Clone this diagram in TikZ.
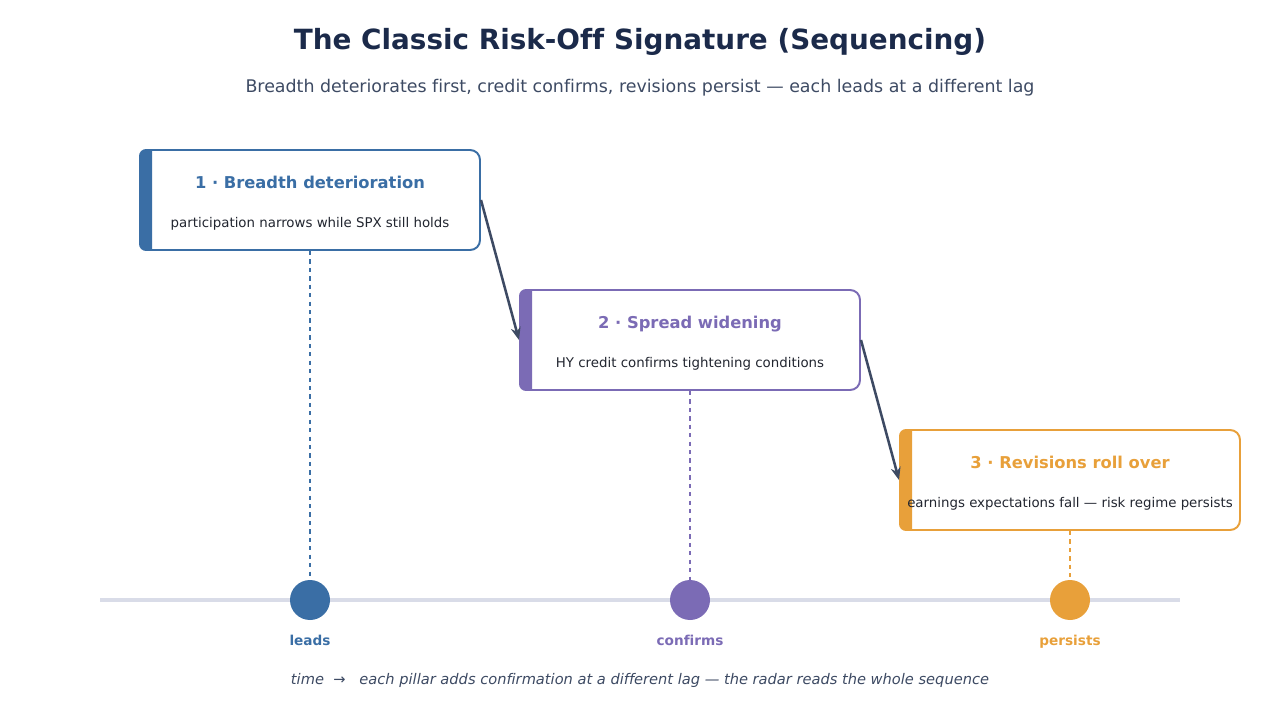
\documentclass[tikz,border=0pt]{standalone}
\usepackage{fontspec}
\setmainfont{DejaVu Sans}[Ligatures=NoCommon]
\usepackage{tikz}
\usetikzlibrary{positioning,arrows.meta}
\definecolor{TitleNavy}{HTML}{1B2A4A}
\definecolor{SlateText}{HTML}{3D4A63}
\definecolor{BodyText}{HTML}{222630}
\definecolor{LeadBlue}{HTML}{3A6EA5}
\definecolor{ConfPurple}{HTML}{7B6BB5}
\definecolor{PersOrange}{HTML}{E8A03A}
\definecolor{AxisGrey}{HTML}{D9DCE8}

\begin{document}
\begin{tikzpicture}[
        stagebox/.style={rectangle, draw=#1, fill=white, line width=1.4pt, rounded corners=7pt, minimum width=8.5cm, minimum height=2.5cm},
        stagetitle/.style={font=\fontsize{11.6}{13}\selectfont\bfseries, text=#1},
        stagedesc/.style={font=\fontsize{9.5}{11}\selectfont, text=BodyText},
        lagdot/.style={circle, fill=#1, minimum size=1cm, inner sep=0pt},
        laglabel/.style={font=\fontsize{9.7}{11}\selectfont\bfseries, text=#1},
        drop/.style={draw=#1, line width=1.1pt, dash pattern=on 3pt off 3pt},
        arrow/.style={draw=SlateText, line width=1.8pt, -{Stealth[length=9pt,width=7pt]}}
    ]
        \useasboundingbox (0,0) rectangle (32,18);

        % heading
        \node [font=\fontsize{19.8}{23}\selectfont\bfseries, text=TitleNavy] (title) at (16,16.95) {The Classic Risk-Off Signature (Sequencing)};
        \node [font=\fontsize{12.4}{14}\selectfont, text=SlateText] (subtitle) at (16,15.82) {Breadth deteriorates first, credit confirms, revisions persist — each leads at a different lag};

        % time axis
        \coordinate (axis_l) at (2.5,3);
        \coordinate (axis_r) at (29.5,3);
        \draw [AxisGrey, line width=2.4pt] (axis_l) -- (axis_r);

        % stage boxes
        \node [stagebox=LeadBlue] (s_breadth) at (7.75,13) {};
        \node [stagebox=ConfPurple] (s_spread) at (17.25,9.5) {};
        \node [stagebox=PersOrange] (s_revis) at (26.75,6) {};

        \foreach \b/\c in {s_breadth/LeadBlue, s_spread/ConfPurple, s_revis/PersOrange}
            \fill [\c] ([xshift=0.33cm]\b.north west) [rounded corners=5pt] -- (\b.north west) -- (\b.south west) [sharp corners] -- ([xshift=0.33cm]\b.south west) -- cycle;

        \node [stagetitle=LeadBlue] (t_breadth) at ([yshift=0.43cm]s_breadth.center) {1 · Breadth deterioration};
        \node [stagedesc] (d_breadth) at ([yshift=-0.59cm]s_breadth.center) {participation narrows while SPX still holds};
        \node [stagetitle=ConfPurple] (t_spread) at ([yshift=0.4cm]s_spread.center) {2 · Spread widening};
        \node [stagedesc] (d_spread) at ([yshift=-0.59cm]s_spread.center) {HY credit confirms tightening conditions};
        \node [stagetitle=PersOrange] (t_revis) at ([yshift=0.43cm]s_revis.center) {3 · Revisions roll over};
        \node [stagedesc] (d_revis) at ([yshift=-0.59cm]s_revis.center) {earnings expectations fall — risk regime persists};

        % lag markers
        \node [lagdot=LeadBlue] (m_leads) at (7.75,3) {};
        \node [lagdot=ConfPurple] (m_confirms) at (17.25,3) {};
        \node [lagdot=PersOrange] (m_persists) at (26.75,3) {};

        \node [laglabel=LeadBlue, below=0.25cm of m_leads] (l_leads) {leads};
        \node [laglabel=ConfPurple, below=0.25cm of m_confirms] (l_confirms) {confirms};
        \node [laglabel=PersOrange, below=0.25cm of m_persists] (l_persists) {persists};

        \draw [drop=LeadBlue] (s_breadth) -- (m_leads);
        \draw [drop=ConfPurple] (s_spread) -- (m_confirms);
        \draw [drop=PersOrange] (s_revis) -- (m_persists);

        % sequence arrows
        \draw [arrow] (s_breadth.east) -- (s_spread.west);
        \draw [arrow] (s_spread.east) -- (s_revis.west);

        \node [font=\fontsize{10.4}{12}\selectfont\itshape, text=SlateText] (footer) at (16,1) {time \ → \ \ each pillar adds confirmation at a different lag — the radar reads the whole sequence};
    \end{tikzpicture}
\end{document}
